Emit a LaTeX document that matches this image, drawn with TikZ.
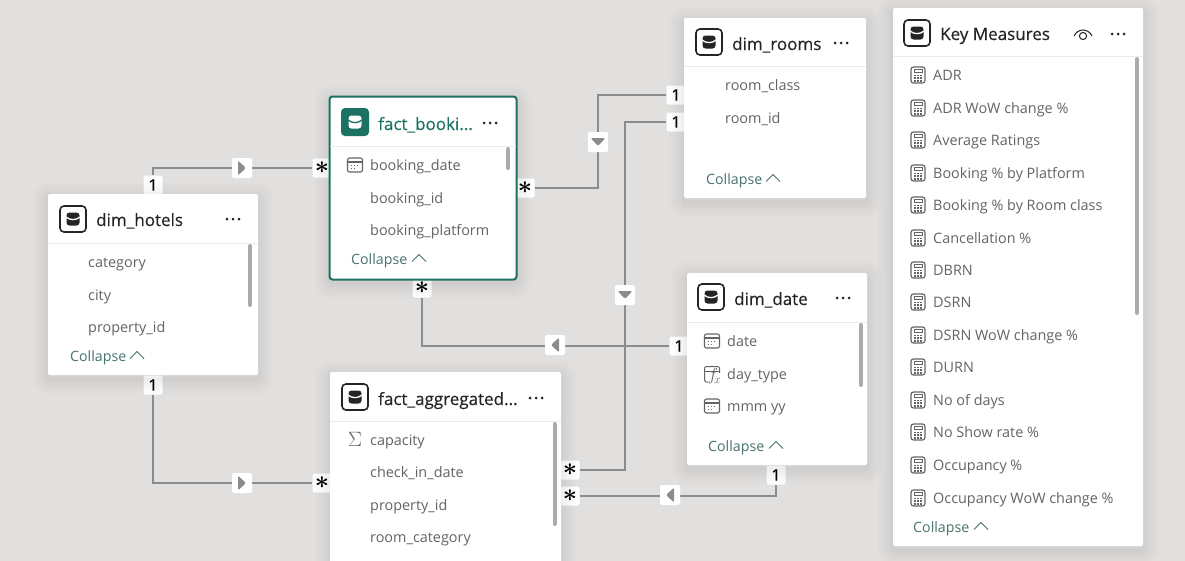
\documentclass[tikz,border=0pt]{standalone}
\usepackage{amsmath, amssymb}
\usepackage{fontspec}
\setmainfont{Open Sans}
\newfontfamily\titlefont[FakeBold=0.35]{Open Sans}
\usetikzlibrary{calc, backgrounds}

\definecolor{pagegrey}{HTML}{E1E0DF}
\definecolor{linegrey}{HTML}{8C8C8C}
\definecolor{fieldgrey}{HTML}{666462}
\definecolor{titledark}{HTML}{252423}
\definecolor{activegreen}{HTML}{1B7262}
\definecolor{collapseteal}{HTML}{46736E}
\definecolor{scrollgrey}{HTML}{ABABAB}
\definecolor{rulegrey}{HTML}{EDEBE9}

\tikzset{
  dbicon/.pic={
    \draw[titledark, line width=1.6pt, rounded corners=4pt, fill=white] (-13,-13) rectangle (13,13);
    \fill[titledark, rounded corners=3pt] (-6.5,-6.5) rectangle (6.5,6.5);
    \draw[white, line width=1.3pt] (-7,-2) .. controls (-3,1.5) and (3,1.5) .. (7,-2);
  },
  dbiconactive/.pic={
    \fill[activegreen, rounded corners=4pt] (-14,-14) rectangle (14,14);
    \fill[white, rounded corners=3pt] (-6.5,-6.5) rectangle (6.5,6.5);
    \draw[activegreen, line width=1.3pt] (-7,-2) .. controls (-3,1.5) and (3,1.5) .. (7,-2);
  },
  calicon/.pic={
    \draw[fieldgrey, line width=1.1pt, rounded corners=2pt] (-7.5,-7) rectangle (7.5,7);
    \draw[fieldgrey, line width=1.1pt] (-7.5,-3) -- (7.5,-3);
    \draw[fieldgrey, line width=1.2pt, dash pattern=on 1.3pt off 1.7pt] (-4.2,0.5) -- (4.2,0.5);
    \draw[fieldgrey, line width=1.2pt, dash pattern=on 1.3pt off 1.7pt] (-4.2,3.5) -- (0,3.5);
  },
  calcicon/.pic={
    \draw[fieldgrey, line width=1.2pt, rounded corners=2.5pt] (-7,-8) rectangle (7,8);
    \draw[fieldgrey, line width=1pt] (-4,-5.2) rectangle (4,-2.2);
    \draw[fieldgrey, line width=1.5pt, dash pattern=on 1.7pt off 1.4pt] (-4,0.5) -- (4,0.5);
    \draw[fieldgrey, line width=1.5pt, dash pattern=on 1.7pt off 1.4pt] (-4,3.2) -- (4,3.2);
    \draw[fieldgrey, line width=1.5pt, dash pattern=on 1.7pt off 1.4pt] (-4,5.8) -- (4,5.8);
  },
  fxicon/.pic={
    \draw[fieldgrey, line width=1pt, rounded corners=2pt] (-4,8) -- (-7.5,8) -- (-7.5,-7.5) -- (7.5,-7.5) -- (7.5,-1);
    \draw[fieldgrey, line width=1pt] (-7.5,-3) -- (7.5,-3);
    \node[fieldgrey, inner sep=0pt, font=\fontsize{17}{17}\selectfont] (FxMark) at (2.5,2.5) {$f_{\!x}$};
  },
  moredots/.pic={
    \fill[titledark] (-6,0) circle (1.5) (0,0) circle (1.5) (6,0) circle (1.5);
  },
  eyeicon/.pic={
    \draw[titledark, line width=1pt] (-9,2) .. controls (-5,-6) and (5,-6) .. (9,2);
    \draw[titledark, line width=1pt] (0,2) circle (3.6);
  },
  chevron/.pic={
    \draw[collapseteal, line width=0.9pt] (-7,3.5) -- (0,-3.5) -- (7,3.5);
  }
}

\begin{document}
\begin{tikzpicture}[
  x=1pt, y=-1pt,
  softedge/.style={preaction={draw=black, draw opacity=.012, line width=#1, transform canvas={yshift=-4pt}}},
  cardshadow/.style={softedge=30pt, softedge=24pt, softedge=18pt, softedge=12pt, softedge=7pt, softedge=3pt},
  card/.style={fill=white, rounded corners=1.5pt, inner sep=0pt, cardshadow},
  activecard/.style={card, draw=activegreen, line width=2pt, rounded corners=3pt},
  title/.style={anchor=west, inner sep=0pt, text=titledark, font=\titlefont\fontsize{17}{17}\selectfont, text height=15pt, text depth=3pt},
  activetitle/.style={title, text=activegreen},
  field/.style={anchor=west, inner sep=0pt, text=fieldgrey, font=\fontsize{14.4}{14.4}\selectfont, text height=13pt, text depth=2.5pt},
  collapse/.style={anchor=west, inner sep=0pt, text=collapseteal, font=\fontsize{14.2}{14.2}\selectfont, text height=13pt, text depth=2.5pt},
  headrule/.style={rulegrey, line width=1pt},
  scrollbar/.style={scrollgrey, line cap=round, line width=4pt},
  rel/.style={linegrey, line width=1.25pt},
  badge/.style={fill=white, rounded corners=2pt, inner sep=0pt, minimum width=19pt, minimum height=19pt, font=\titlefont\fontsize{16}{16}\selectfont, text=black},
  manybadge/.style={badge, font=\fontsize{32}{32}\selectfont},
  flowbox/.style={badge, minimum width=20pt, minimum height=20pt},
  flowright/.style={flowbox, path picture={\fill[linegrey] ($(path picture bounding box.center)+(-4,-7.5)$) -- ($(path picture bounding box.center)+(4,0)$) -- ($(path picture bounding box.center)+(-4,7.5)$) -- cycle;}},
  flowleft/.style={flowbox, path picture={\fill[linegrey] ($(path picture bounding box.center)+(4,-7.5)$) -- ($(path picture bounding box.center)+(-4,0)$) -- ($(path picture bounding box.center)+(4,7.5)$) -- cycle;}},
  flowdown/.style={flowbox, path picture={\fill[linegrey] ($(path picture bounding box.center)+(-7.5,-4)$) -- ($(path picture bounding box.center)+(0,4)$) -- ($(path picture bounding box.center)+(7.5,-4)$) -- cycle;}}
]
\useasboundingbox (0,0) rectangle (1185,560);
\clip (-3,-3) rectangle (1188,563);

% badges first, the cards sit over them
\node[badge] (HotelsOneTop) at (153,185) {1};
\node[badge] (HotelsOneBot) at (153,385) {1};
\node[manybadge] (BookingManyL) at (322,168) {$\boldsymbol{\ast}$};
\node[manybadge] (BookingManyR) at (525,188) {$\boldsymbol{\ast}$};
\node[manybadge] (BookingManyB) at (422,288) {$\boldsymbol{\ast}$};
\node[manybadge] (AggManyL) at (322,483) {$\boldsymbol{\ast}$};
\node[manybadge] (AggManyT) at (570,470) {$\boldsymbol{\ast}$};
\node[manybadge] (AggManyB) at (570,496) {$\boldsymbol{\ast}$};
\node[badge] (RoomsOneT) at (676,95) {1};
\node[badge] (RoomsOneB) at (676,122) {1};
\node[badge] (DateOneL) at (679,346) {1};
\node[badge] (DateOneB) at (776,475) {1};

\node[flowright] (FlowHotelsBooking) at (242,168) {};
\node[flowright] (FlowHotelsAgg) at (242,483) {};
\node[flowdown] (FlowRoomsBooking) at (598,142) {};
\node[flowdown] (FlowRoomsAgg) at (625,295) {};
\node[flowleft] (FlowDateBooking) at (555,345) {};
\node[flowleft] (FlowDateAgg) at (670,495) {};

\begin{scope}[on background layer]
\fill[pagegrey] (-3,-3) rectangle (1188,563);
\draw[rel] (HotelsOneTop) |- (BookingManyL);
\draw[rel] (HotelsOneBot) |- (AggManyL);
\draw[rel] (BookingManyR) -| (FlowRoomsBooking) |- (RoomsOneT);
\draw[rel] (AggManyT) -| (FlowRoomsAgg) |- (RoomsOneB);
\draw[rel] (BookingManyB) |- (DateOneL);
\draw[rel] (AggManyB) -| (DateOneB);
\end{scope}

% dim_hotels
\node[card, minimum width=210pt, minimum height=181pt] (Hotels) at (153,284.5) {};
\pic at (73,219) {dbicon};
\node[title] (HotelsTitle) at (96,220) {dim\_hotels};
\pic at (233,219) {moredots};
\draw[headrule] (48,243) -- (258,243);
\node[field] (HotelsF1) at (88,262) {category};
\node[field] (HotelsF2) at (88,295) {city};
\node[field] (HotelsF3) at (88,327) {property\_id};
\draw[scrollbar] (250,246) -- (250,305);
\node[collapse] (HotelsCollapse) at (70,356) {Collapse};
\pic at (137,355) {chevron};

% fact_bookings
\node[activecard, minimum width=187pt, minimum height=183pt] (Booking) at (423,188) {};
\pic at (355,122) {dbiconactive};
\node[activetitle] (BookingTitle) at (378,124) {fact\_booki...};
\pic at (490,123) {moredots};
\draw[headrule] (330,146) -- (516,146);
\pic at (355,165) {calicon};
\node[field] (BookingF1) at (370,165) {booking\_date};
\node[field] (BookingF2) at (370,198) {booking\_id};
\node[field] (BookingF3) at (370,230) {booking\_platform};
\draw[scrollbar] (507.5,149) -- (507.5,168);
\node[collapse] (BookingCollapse) at (351,259) {Collapse};
\pic at (419,258) {chevron};

% dim_rooms
\node[card, minimum width=182pt, minimum height=180pt] (Rooms) at (775,108) {};
\pic at (709,42) {dbicon};
\node[title] (RoomsTitle) at (732,44) {dim\_rooms};
\pic at (841,43) {moredots};
\draw[headrule] (684,66) -- (866,66);
\node[field] (RoomsF1) at (725,85) {room\_class};
\node[field] (RoomsF2) at (725,118) {room\_id};
\node[collapse] (RoomsCollapse) at (706,179) {Collapse};
\pic at (773,178) {chevron};

% dim_date
\node[card, minimum width=180pt, minimum height=192pt] (Date) at (777,369) {};
\pic at (711,297) {dbicon};
\node[title] (DateTitle) at (734,299) {dim\_date};
\pic at (843,298) {moredots};
\draw[headrule] (687,322) -- (867,322);
\pic at (712,341) {calicon};
\node[field] (DateF1) at (727,341) {date};
\pic at (712,374) {fxicon};
\node[field] (DateF2) at (727,374) {day\_type};
\pic at (712,406) {calicon};
\node[field] (DateF3) at (727,406) {mmm yy};
\draw[scrollbar] (861,325) -- (861,385);
\node[collapse] (DateCollapse) at (708,446) {Collapse};
\pic at (776,445) {chevron};

% fact_aggregated
\node[card, minimum width=231pt, minimum height=210pt] (Agg) at (445.5,477) {};
\pic at (355,397) {dbicon};
\node[title] (AggTitle) at (378,399) {fact\_aggregated...};
\pic at (536,398) {moredots};
\draw[headrule] (330,421) -- (561,421);
\node[inner sep=0pt, text=fieldgrey, font=\fontsize{20}{20}\selectfont] (AggSigma) at (355,439) {$\Sigma$};
\node[field] (AggF1) at (370,440) {capacity};
\node[field] (AggF2) at (370,472) {check\_in\_date};
\node[field] (AggF3) at (370,505) {property\_id};
\node[field] (AggF4) at (370,537) {room\_category};
\draw[scrollbar] (554.5,424) -- (554.5,524);

% Key Measures
\node[card, minimum width=250pt, minimum height=538pt] (Measures) at (1018,277) {};
\pic at (917,33) {dbicon};
\node[title] (MeasuresTitle) at (940,34) {Key Measures};
\pic at (1083,34) {eyeicon};
\pic at (1118,34) {moredots};
\draw[headrule] (893,56) -- (1143,56);
\pic at (918,75) {calcicon};
\node[field] (M1) at (933,75) {ADR};
\pic at (918,108) {calcicon};
\node[field] (M2) at (933,108) {ADR WoW change \%};
\pic at (918,140) {calcicon};
\node[field] (M3) at (933,140) {Average Ratings};
\pic at (918,173) {calcicon};
\node[field] (M4) at (933,173) {Booking \% by Platform};
\pic at (918,205) {calcicon};
\node[field] (M5) at (933,205) {Booking \% by Room class};
\pic at (918,238) {calcicon};
\node[field] (M6) at (933,238) {Cancellation \%};
\pic at (918,270) {calcicon};
\node[field] (M7) at (933,270) {DBRN};
\pic at (918,302) {calcicon};
\node[field] (M8) at (933,302) {DSRN};
\pic at (918,335) {calcicon};
\node[field] (M9) at (933,335) {DSRN WoW change \%};
\pic at (918,367) {calcicon};
\node[field] (M10) at (933,367) {DURN};
\pic at (918,400) {calcicon};
\node[field] (M11) at (933,400) {No of days};
\pic at (918,432) {calcicon};
\node[field] (M12) at (933,432) {No Show rate \%};
\pic at (918,465) {calcicon};
\node[field] (M13) at (933,465) {Occupancy \%};
\pic at (918,498) {calcicon};
\node[field] (M14) at (933,498) {Occupancy WoW change \%};
\draw[scrollbar] (1137,59) -- (1137,313);
\node[collapse] (MeasuresCollapse) at (913,527) {Collapse};
\pic at (981,526) {chevron};
\end{tikzpicture}
\end{document}
